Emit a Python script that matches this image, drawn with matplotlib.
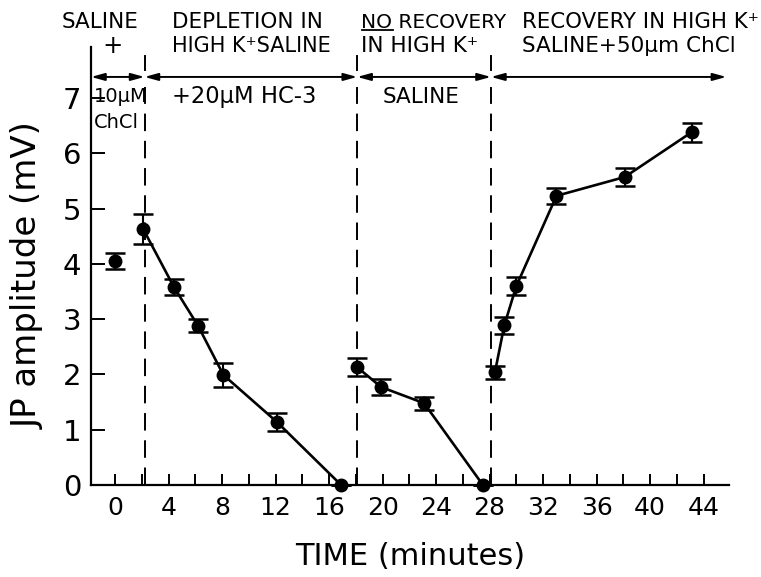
import numpy as np
import matplotlib
matplotlib.use("Agg")
import matplotlib.pyplot as plt

# ---- data ----
t_single = [0.0]
v_single = [4.05]
e_single = [0.14]

t_depl = [2.1, 4.4, 6.2, 8.1, 12.1, 16.9]
v_depl = [4.63, 3.58, 2.88, 1.99, 1.14, 0.0]
e_depl = [0.27, 0.15, 0.12, 0.22, 0.16, 0.0]

t_norec = [18.1, 19.9, 23.1, 27.5]
v_norec = [2.13, 1.77, 1.48, 0.0]
e_norec = [0.16, 0.14, 0.12, 0.0]

t_rec = [28.4, 29.1, 30.0, 33.0, 38.1, 43.1]
v_rec = [2.04, 2.89, 3.60, 5.23, 5.57, 6.38]
e_rec = [0.12, 0.15, 0.16, 0.14, 0.16, 0.17]

phase_bounds = [2.2, 18.1, 28.1]
xticks_major = [0, 4, 8, 12, 16, 20, 24, 28, 32, 36, 40, 44]
yticks = [0, 1, 2, 3, 4, 5, 6, 7]

plt.rcParams['font.family'] = ['DejaVu Sans']

fig = plt.figure(figsize=(7.61, 5.77), dpi=100)
ax = fig.add_axes([0.1196, 0.1594, 0.8384, 0.759])

XMIN, XMAX = -1.8, 45.9
YMIN, YMAX = 0, 7.92
ax.set_xlim(XMIN, XMAX)
ax.set_ylim(YMIN, YMAX)

style = dict(color='black', marker='o', markersize=9, lw=1.9,
             capsize=7, elinewidth=1.5, capthick=1.8, clip_on=False, zorder=3)

ax.errorbar(t_single, v_single, yerr=e_single, ls='none', **style)
for t, v, e in [(t_depl, v_depl, e_depl), (t_norec, v_norec, e_norec),
                (t_rec, v_rec, e_rec)]:
    ax.errorbar(t, v, yerr=e, ls='-', **style)

# dashed phase boundaries
for b in phase_bounds:
    ax.plot([b, b], [0, 7.2], color='black', lw=1.4, ls=(0, (9, 5)), clip_on=False)
    ax.plot([b, b], [7.5, 7.75], color='black', lw=1.4, clip_on=False)

# arrowed time line on top
ARROW_Y = 7.38
segs = [XMIN] + phase_bounds + [XMAX - 0.2]
for i in range(len(segs) - 1):
    ax.annotate('', xy=(segs[i + 1], ARROW_Y), xytext=(segs[i], ARROW_Y),
                arrowprops=dict(arrowstyle='<|-|>,head_length=0.8,head_width=0.22',
                                color='black', lw=1.4, shrinkA=0, shrinkB=0),
                annotation_clip=False)

# spines / ticks
ax.spines['top'].set_visible(False)
ax.spines['right'].set_visible(False)
for s in ['left', 'bottom']:
    ax.spines[s].set_linewidth(1.6)
ax.set_yticks(yticks)
ax.set_xticks(xticks_major)
ax.set_xticks(np.arange(2, 46, 4), minor=True)
ax.tick_params(axis='both', which='both', direction='in', width=1.4)
ax.tick_params(axis='y', length=10, labelsize=21, pad=7)
ax.tick_params(axis='x', which='both', length=8, labelsize=18, pad=8)

ax.set_xlabel('TIME (minutes)', fontsize=22, labelpad=16)
ax.set_ylabel('JP amplitude (mV)', fontsize=24.5, va='center')
ax.yaxis.set_label_coords(-0.099, 0.479)

# annotations
tk = dict(color='black', ha='left', va='center', clip_on=False)
ax.text(-3.96, 8.37, 'SALINE', fontsize=15.5, **tk)
ax.text(-0.2, 7.94, '+', fontsize=17.5, ha='center', va='center')
ax.text(4.25, 8.37, 'DEPLETION IN', fontsize=15.5, **tk)
ax.text(4.25, 7.94, 'HIGH K\u207aSALINE', fontsize=15, **tk)
ax.text(18.4, 8.37, 'NO RECOVERY', fontsize=14.5, **tk)
ax.text(18.4, 7.94, 'IN HIGH K\u207a', fontsize=15.5, **tk)
ax.plot([18.45, 20.75], [8.23, 8.23], color='black', lw=1.3, clip_on=False)
ax.text(30.4, 8.37, 'RECOVERY IN HIGH K\u207a', fontsize=15.3, **tk)
ax.text(30.4, 7.94, 'SALINE+50\u03bcm ChCl', fontsize=15.5, **tk)
ax.text(-1.55, 7.02, '10\u03bcM', fontsize=14, **tk)
ax.text(-1.55, 6.56, 'ChCl', fontsize=14, **tk)
ax.text(4.25, 7.02, '+20\u03bcM HC-3', fontsize=16.3, **tk)
ax.text(20.0, 7.02, 'SALINE', fontsize=15.5, **tk)

fig.savefig('out.png', dpi=100)
